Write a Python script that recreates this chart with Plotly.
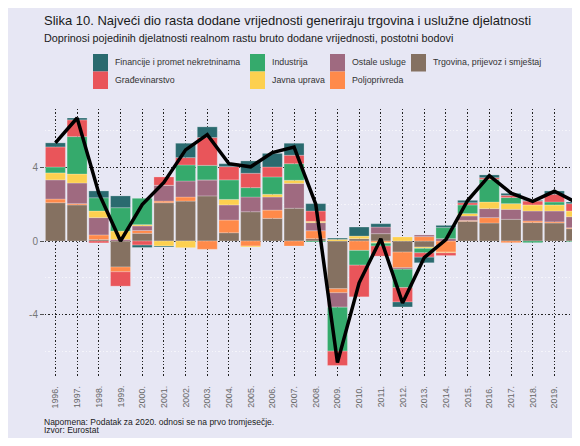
import plotly.graph_objects as go

years = list(range(1996, 2021))
year_labels = [f"{y}." for y in years]

trgovina = [2.08, 1.96, 0.08, -1.41, 0.42, 2.08, 2.17, 2.45, 0.45, 1.59, 1.23, 1.78, 0.13,
            -2.59, 0.13, 0.40, -0.60, -0.33, 0.0, 1.07, 0.98, 1.18, 1.00, 0.98, 0.67]
poljoprivreda = [0.20, 0.07, 0.25, -0.26, 0.15, 0.09, 0.22, -0.45, 0.69, -0.27, 0.45, -0.27, 0.43,
                 -0.22, -0.51, -0.07, -0.85, 0.24, -0.60, 0.05, 0.29, -0.09, 0.09, 0.06, 0.05]
ostale = [1.04, 1.12, 0.94, 0.09, 0.25, 0.86, 0.87, 0.87, 0.82, 0.80, 0.71, 1.35, 0.44,
          -0.78, 0.0, 0.36, -0.08, 0.09, 0.13, 0.24, 0.49, 0.54, 0.54, 0.59, 0.60]
javna = [0.38, 0.49, 0.36, 0.45, 0.07, -0.27, -0.36, 0.0, 0.30, -0.05, 0.15, 0.17, 0.07,
         0.09, 0.14, -0.05, 0.22, -0.07, -0.04, 0.13, 0.36, 0.31, 0.33, 0.33, 0.31]
industrija = [0.32, 2.03, 0.72, 1.27, 1.43, 0.0, 0.87, 0.79, 1.06, 0.51, 0.94, 0.90, -0.05,
              -2.39, -0.80, -0.15, -1.00, -0.24, 0.60, 0.47, 1.23, 0.33, -0.09, 0.16, -0.04]
gradjevinarstvo = [1.09, 0.91, -0.10, -0.78, -0.22, 0.45, 0.40, 1.51, 0.72, 0.78, 0.54, 0.46, 0.56,
                   -0.78, -1.72, -0.55, -0.78, -0.24, -0.15, 0.12, 0.09, 0.12, 0.21, 0.42, 0.40]
financije = [0.22, 0.10, 0.37, 0.64, -0.13, -0.05, 0.78, 0.58, 0.16, 0.67, 0.74, 0.65, 0.40,
             0.07, 0.49, 0.18, -0.27, -0.30, 0.12, 0.13, 0.15, 0.11, 0.04, 0.18, 0.09]
ukupno = [5.33, 6.68, 2.60, 0.0, 1.98, 3.18, 4.95, 5.78, 4.20, 4.03, 4.80, 5.10, 2.00,
          -6.60, -2.27, 0.12, -3.36, -0.90, 0.08, 2.20, 3.55, 2.60, 2.15, 2.70, 2.10]

series = [
    ("Trgovina, prijevoz i smještaj", trgovina, "#857161"),
    ("Poljoprivreda", poljoprivreda, "#FF8A4A"),
    ("Ostale usluge", ostale, "#9F6A80"),
    ("Javna uprava", javna, "#FDD04F"),
    ("Industrija", industrija, "#35AA6C"),
    ("Građevinarstvo", gradjevinarstvo, "#E9555A"),
    ("Financije i promet nekretninama", financije, "#2A6A6F"),
]
colors = {name: c for name, _, c in series}

# figure fits the 580x446 window exactly (8px default body margin), no scrollbars
W, H = 572, 430
ML, MR, MT, MB = 37, 0, 101, 62
PW, PH = W - ML - MR, H - MT - MB
OFF = 8  # page offset of the figure


def px(x):
    return (x - OFF - ML) / PW


def py(y):
    return (H - MB - (y - OFF)) / PH


fig = go.Figure()
for name, vals, col in series:
    fig.add_trace(go.Bar(
        x=years, y=vals, name=name, width=0.92,
        marker=dict(color=col, line=dict(color="rgba(255,255,255,0.45)", width=0.5)),
        showlegend=False,
    ))
fig.add_trace(go.Scatter(x=years, y=ukupno, mode="lines",
                         line=dict(color="black", width=3.5), showlegend=False))

FONT = "Liberation Sans, Arial, sans-serif"
bg = "#E7E7F4"

fig.update_layout(
    width=W, height=H,
    margin=dict(l=ML, r=MR, t=MT, b=MB),
    barmode="relative",
    paper_bgcolor=bg, plot_bgcolor=bg,
    font=dict(family=FONT, size=9, color="#444"),
    showlegend=False,
)
fig.update_xaxes(
    range=[1995.52, 2020.18], tickmode="array", tickvals=years, showticklabels=False,
    automargin=False,
    showgrid=True, gridcolor="#222", gridwidth=1, griddash="1.4px,2px",
    zeroline=False, showline=False, ticks="",
)
fig.update_yaxes(
    range=[-7.33, 7.17], tickmode="array", tickvals=[-4, 0, 4], ticktext=["-4", "0", "4"],
    tickfont=dict(size=10, color="#777"), automargin=False,
    showgrid=True, gridcolor="#222", gridwidth=1, griddash="1.4px,2px",
    zeroline=False, showline=False, ticks="outside", ticklen=4, tickcolor="#555",
    minor=dict(tickmode="array", tickvals=[-6, -2, 2, 6], showgrid=True,
               gridcolor="rgba(255,255,255,0.6)", gridwidth=1, ticks=""),
)

ann = []
for yr, lab in zip(years, year_labels):
    ann.append(dict(text=lab, x=yr, xref="x", y=py(385), yref="paper",
                    xanchor="center", yanchor="top", textangle=-90, showarrow=False,
                    borderpad=0, font=dict(size=8.8, color="#666", family=FONT)))
ann.append(dict(text="Slika 10. Najveći dio rasta dodane vrijednosti generiraju trgovina i uslužne djelatnosti",
                x=px(42), y=py(20), xref="paper", yref="paper", xanchor="left", yanchor="middle",
                showarrow=False, font=dict(size=13, color="#1a1a1a", family=FONT)))
ann.append(dict(text="Doprinosi pojedinih djelatnosti realnom rastu bruto dodane vrijednosti, postotni bodovi",
                x=px(42), y=py(38), xref="paper", yref="paper", xanchor="left", yanchor="middle",
                showarrow=False, font=dict(size=10.8, color="#1a1a1a", family=FONT)))
ann.append(dict(text="Napomena: Podatak za 2020. odnosi se na prvo tromjesečje.",
                x=px(42), y=py(421.5), xref="paper", yref="paper", xanchor="left", yanchor="middle",
                showarrow=False, font=dict(size=8.5, color="#1a1a1a", family=FONT)))
ann.append(dict(text="Izvor: Eurostat",
                x=px(42), y=py(430), xref="paper", yref="paper", xanchor="left", yanchor="middle",
                showarrow=False, font=dict(size=8.5, color="#1a1a1a", family=FONT)))

legend_layout = [
    ("Financije i promet nekretninama", 93, 0),
    ("Industrija", 250, 0),
    ("Ostale usluge", 330, 0),
    ("Trgovina, prijevoz i smještaj", 411, 0),
    ("Građevinarstvo", 93, 1),
    ("Javna uprava", 250, 1),
    ("Poljoprivreda", 330, 1),
]
shapes = []
for name, x0, row in legend_layout:
    y0 = 54 + row * 17.5
    shapes.append(dict(type="rect", xref="paper", yref="paper",
                       x0=px(x0), x1=px(x0 + 15), y0=py(y0), y1=py(y0 + 17.5),
                       fillcolor=colors[name], line=dict(width=0), layer="above"))
    ann.append(dict(text=name, x=px(x0 + 20), y=py(y0 + 8.5), xref="paper", yref="paper",
                    xanchor="left", yanchor="middle", showarrow=False,
                    font=dict(size=8.8, color="#333", family=FONT)))

fig.update_layout(annotations=ann, shapes=shapes)
fig.write_html("out.html")
